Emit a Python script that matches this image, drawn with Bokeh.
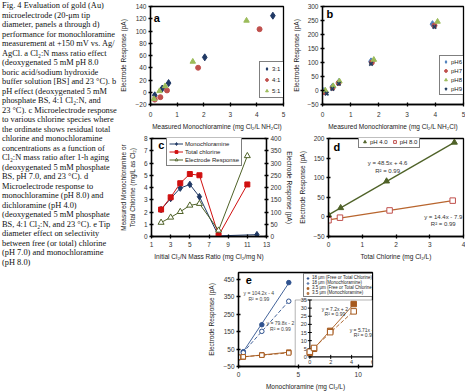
import numpy as np
from bokeh.plotting import figure
from bokeh.layouts import row, column
from bokeh.models import (FixedTicker, Range1d, LinearAxis, Legend, LegendItem,
                          BoxAnnotation, Spacer, Label)
from bokeh.embed import file_html
from bokeh.resources import INLINE
from bokeh.core.properties import value

FONT = "Liberation Sans"
SERIF = "Liberation Serif"

# ---------------- caption ----------------
caption_lines = [
    "Fig. 4  Evaluation of gold (Au)",
    "microelectrode (20-\u03bcm tip",
    "diameter, panels a through d)",
    "performance for monochloramine",
    "measurement at +150 mV vs. Ag/",
    "AgCl. a Cl\u2082:N mass ratio effect",
    "(deoxygenated 5 mM pH 8.0",
    "boric acid/sodium hydroxide",
    "buffer solution [BS] and 23 \u00b0C). b",
    "pH effect (deoxygenated 5 mM",
    "phosphate BS, 4:1 Cl\u2082:N, and",
    "23 \u00b0C). c Microelectrode response",
    "to various chlorine species where",
    "the ordinate shows residual total",
    "chlorine and monochloramine",
    "concentrations as a function of",
    "Cl\u2082:N mass ratio after 1-h aging",
    "(deoxygenated 5 mM phosphate",
    "BS, pH 7.0, and 23 \u00b0C). d",
    "Microelectrode response to",
    "monochloramine (pH 8.0) and",
    "dichloramine (pH 4.0)",
    "(deoxygenated 5 mM phosphate",
    "BS, 4:1 Cl\u2082:N, and 23 \u00b0C). e Tip",
    "diameter effect on selectivity",
    "between free (or total) chlorine",
    "(pH 7.0) and monochloramine",
    "(pH 8.0)",
]

# ---------------- panel a ----------------
a_labels = ["3:1", "4:1", "5:1"]
a_x_3to1 = [0.16, 0.44, 0.68, 2.04, 4.60]
a_y_3to1 = [-5, 6, 15, 57, 125]
a_x_4to1 = [0.16, 0.37, 0.62, 1.79, 4.10]
a_y_4to1 = [-12, -8, 3, 40, 103]
a_x_5to1 = [0.13, 0.34, 0.55, 1.59, 3.61]
a_y_5to1 = [-11, 2, 10, 50, 117]
a_xticks = [0, 1, 2, 3, 4, 5]
a_yticks = [-20, 0, 20, 40, 60, 80, 100, 120, 140]

# ---------------- panel b ----------------
b_labels = ["pH6", "pH7", "pH8", "pH9"]
b_x_ph6 = [0.05, 0.35, 0.58, 1.72, 3.90]
b_y_ph6 = [-2, 13, 30, 104, 237]
b_x_ph7 = [0.08, 0.36, 0.57, 1.75, 3.97]
b_y_ph7 = [-6, 10, 27, 100, 232]
b_x_ph8 = [0.10, 0.38, 0.60, 1.82, 4.08]
b_y_ph8 = [0, 16, 33, 110, 246]
b_x_ph9 = [0.15, 0.35, 0.58, 1.72, 3.97]
b_y_ph9 = [-11, 6, 24, 95, 227]
b_xticks = [0, 1, 2, 3, 4, 5]
b_yticks = [-50, 0, 50, 100, 150, 200, 250, 300]

# ---------------- panel c ----------------
c_labels = ["Monochloramine", "Total chlorine", "Electrode Response"]
c_ratio_mono = [2, 3, 4, 5, 6, 8, 12]
c_mono = [2.2, 3.1, 3.95, 4.25, 3.25, 0.05, 0.15]
c_ratio_total = [2, 3, 4, 5, 6, 8, 11]
c_total = [2.2, 3.2, 4.35, 5.1, 5.0, 0.08, 4.25]
c_ratio_resp = [2, 3, 4, 5, 6, 8, 11]
c_resp = [57, 78, 101, 127, 134, 25, 329]
c_xticks = [1, 3, 5, 7, 9, 11, 13]
c_yticks = [0, 1, 2, 3, 4, 5, 6, 7, 8]
c_ryticks = [0, 50, 100, 150, 200, 250, 300, 350, 400]

# ---------------- panel d ----------------
d_labels = ["pH 4.0", "pH 8.0"]
d_x_ph4 = [0.0, 0.36, 1.72, 3.73]
d_y_ph4 = [5, 23, 91, 190]
d_x_ph8 = [0.0, 0.34, 1.81, 3.68]
d_y_ph8 = [-8.5, -2, 16.5, 41.5]
d_fit_text = ["y = 48.5x + 4.6", "R\u00b2 = 0.99", "y = 14.4x - 7.9", "R\u00b2 = 0.99"]
d_xticks = [0, 1, 2, 3, 4]
d_yticks = [-50, 0, 50, 100, 150, 200]

# ---------------- panel e ----------------
e_labels = ["18 \u03bcm (Free or Total Chlorine)", "18 \u03bcm (Monochloramine)",
            "3.5 \u03bcm (Free or Total Chlorine)", "3.5 \u03bcm (Monochloramine)"]
e_x = [0.0, 0.4, 1.95, 4.2]
e_18_free = [-2, 35, 190, 432]
e_18_mono = [3, 29, 152, 325]
e_35_free = [2.5, 5, 16, 32.5]
e_35_mono = [3.2, 5.5, 15.2, 28]
e_fit_text = ["y = 104.2x - 4", "R\u00b2 = 0.99", "y = 79.8x - 2", "R\u00b2 = 0.99"]
e_inset_text = ["y = 7.2x + 2", "R\u00b2 = 0.99", "y = 5.71x + 3", "R\u00b2 = 0.99"]
e_xticks = [0, 5, 10]
e_yticks = [-50, 50, 150, 250, 350, 450]
e_ixticks = [0, 2, 4, 6]
e_iyticks = [0, 5, 10, 15, 20, 25, 30, 35]

# ---------------- colours ----------------
NAVY = "#1F3864"
RED = "#C0504D"
LGREEN = "#9BBB59"
BLUE = "#4F81BD"
DKBLUE = "#243F60"
OLIVE = "#4F6228"
BRIGHTRED = "#D01010"
ORANGE = "#B8652E"
EBLUE = "#2F528F"
EBROWN = "#A65A1E"


def mkfig(w, h, xr, yr, bl, br, bt, bb, axes=True, outline=True):
    kw = {}
    if not axes:
        kw = dict(x_axis_location=None, y_axis_location=None)
    p = figure(width=w, height=h, x_range=xr, y_range=yr, output_backend="svg",
               toolbar_location=None, min_border_left=bl, min_border_right=br,
               min_border_top=bt, min_border_bottom=bb, **kw)
    p.grid.visible = False
    p.outline_line_color = "black" if outline else None
    p.outline_line_width = 1.3
    p.background_fill_color = "white"
    p.border_fill_color = "white"
    return p


def excel_axis(ax, ticks, title, lab_standoff, title_standoff, fs="6.5px"):
    ax.ticker = FixedTicker(ticks=ticks)
    ax.axis_label = title
    ax.axis_label_text_font = FONT
    ax.axis_label_text_font_size = fs
    ax.axis_label_text_font_style = "normal"
    ax.axis_label_text_color = "#222222"
    ax.axis_label_standoff = title_standoff
    ax.major_label_text_font = FONT
    ax.major_label_text_font_size = fs
    ax.major_label_text_color = "#333333"
    ax.major_label_standoff = lab_standoff
    ax.major_tick_in = 2
    ax.major_tick_out = 2
    ax.minor_tick_line_color = None
    ax.axis_line_color = "black"
    ax.axis_line_width = 1.3
    ax.major_tick_line_color = "black"
    ax.major_tick_line_width = 1.3


def mklegend(items, loc, fs="6px", gw=7, gh=7, spacing=3, padding=3, orientation="vertical"):
    return Legend(items=items, location=loc, orientation=orientation,
                  label_text_font=FONT, label_text_font_size=fs,
                  label_text_color="#222222",
                  glyph_width=gw, glyph_height=gh, label_height=gh, label_width=8,
                  label_standoff=2, spacing=spacing, padding=padding, margin=0,
                  border_line_color="black", border_line_width=1.3,
                  background_fill_color="white", background_fill_alpha=1.0)


def panel_letter(p, x, y, t):
    p.add_layout(Label(x=x, y=y, text=t, text_font=FONT, text_font_size="11px",
                       text_font_style="bold", text_baseline="middle", text_align="left",
                       text_color="black"))


# ================= caption =================
cap = mkfig(117, 392, Range1d(0, 117), Range1d(392, 0), 0, 0, 0, 0, axes=False, outline=False)
cap.text(x=[1.5] * len(caption_lines), y=[5.0 + 9.5 * i for i in range(len(caption_lines))],
         text=caption_lines, text_font=value(SERIF), text_font_size=value("8.4px"),
         text_baseline="middle", text_align="left", text_color="#111111")

# ================= panel a =================
pa = mkfig(173, 132, Range1d(0, 5), Range1d(-20, 140), 29, 7, 5, 28)
excel_axis(pa.xaxis[0], a_xticks, "Measured Monochloramine (mg Cl\u2082/L NH\u2082Cl)", 5, 3)
excel_axis(pa.yaxis[0], a_yticks, "Electrode Response (pA)", 2, 5)
ra1 = pa.scatter(a_x_3to1, a_y_3to1, marker="diamond", size=7, fill_color=NAVY, line_color=NAVY)
ra2 = pa.scatter(a_x_4to1, a_y_4to1, marker="circle", size=5, fill_color=RED, line_color=RED)
ra3 = pa.scatter(a_x_5to1, a_y_5to1, marker="triangle", size=5.5, fill_color=LGREEN, line_color=LGREEN)
pa.add_layout(mklegend([LegendItem(label=l, renderers=[r]) for l, r in zip(a_labels, [ra1, ra2, ra3])],
                       (109, 6), spacing=4))
panel_letter(pa, 0.12, 121, "a")

# ================= panel b =================
pb = mkfig(175, 132, Range1d(0, 5), Range1d(-50, 300), 27, 2, 6, 26)
excel_axis(pb.xaxis[0], b_xticks, "Measured Monochloramine (mg Cl\u2082/L NH\u2082Cl)", 5, 3)
excel_axis(pb.yaxis[0], b_yticks, "Electrode Response (pA)", 2, 4)
rb1 = pb.scatter(b_x_ph6, b_y_ph6, marker="diamond", size=7, fill_color=BLUE, line_color=BLUE)
rb2 = pb.scatter(b_x_ph7, b_y_ph7, marker="circle", size=5, fill_color=RED, line_color=RED)
rb3 = pb.scatter(b_x_ph8, b_y_ph8, marker="triangle", size=5.5, fill_color=LGREEN, line_color=LGREEN)
rb4 = pb.scatter(b_x_ph9, b_y_ph9, marker="x", size=5, line_color=DKBLUE, line_width=1.6)
pb.add_layout(mklegend([LegendItem(label=l, renderers=[r]) for l, r in zip(b_labels, [rb1, rb2, rb3, rb4])],
                       (117, 9), spacing=2, padding=2))
panel_letter(pb, 0.14, 272, "b")

# ================= panel c =================
pc = mkfig(179, 130, Range1d(1, 13), Range1d(0, 8), 31, 26, 6, 25)
pc.extra_y_ranges = {"r": Range1d(0, 400)}
excel_axis(pc.xaxis[0], c_xticks, "Initial Cl\u2082/N Mass Ratio (mg Cl\u2082/mg N)", 3, 3)
excel_axis(pc.yaxis[0], c_yticks, "Measured Monochloramine or\nTotal Chlorine (mg/L as Cl\u2082)", 2, 5)
rax = LinearAxis(y_range_name="r")
excel_axis(rax, c_ryticks, "Electrode Response (pA)", 2, 2)
pc.add_layout(rax, "right")
lc1 = pc.line(c_ratio_mono, c_mono, line_color=NAVY, line_width=1)
sc1 = pc.scatter(c_ratio_mono, c_mono, marker="diamond", size=6.5, fill_color=NAVY, line_color=NAVY)
lc2 = pc.line(c_ratio_total, c_total, line_color=BRIGHTRED, line_width=1)
sc2 = pc.scatter(c_ratio_total, c_total, marker="square", size=5, fill_color=BRIGHTRED, line_color=BRIGHTRED)
lc3 = pc.line(c_ratio_resp, c_resp, y_range_name="r", line_color=OLIVE, line_width=1)
sc3 = pc.scatter(c_ratio_resp, c_resp, y_range_name="r", marker="triangle", size=6,
                 fill_color="white", line_color=OLIVE, line_width=1)
pc.add_layout(mklegend([LegendItem(label=c_labels[0], renderers=[lc1, sc1]),
                        LegendItem(label=c_labels[1], renderers=[lc2, sc2]),
                        LegendItem(label=c_labels[2], renderers=[lc3, sc3])],
                       (15, 70), gw=14, gh=7, spacing=1, padding=2))
panel_letter(pc, 1.7, 7.43, "c")

# ================= panel d =================
pd_ = mkfig(169, 130, Range1d(0, 4), Range1d(-50, 200), 32, 2, 6, 24)
excel_axis(pd_.xaxis[0], d_xticks, "Total Chlorine (mg Cl\u2082/L)", 3, 3)
excel_axis(pd_.yaxis[0], d_yticks, "Electrode Response (pA)", 2, 4)
for xs, ys, col in [(d_x_ph4, d_y_ph4, OLIVE), (d_x_ph8, d_y_ph8, ORANGE)]:
    k, b0 = np.polyfit(xs, ys, 1)
    fx = np.array([min(xs), max(xs)])
    pd_.line(fx, k * fx + b0, line_color=col, line_width=1.3)
rd1 = pd_.scatter(d_x_ph4, d_y_ph4, marker="triangle", size=6, fill_color=OLIVE, line_color=OLIVE)
rd2 = pd_.scatter(d_x_ph8, d_y_ph8, marker="square", size=5.5, fill_color="white", line_color=RED, line_width=1)
pd_.add_layout(mklegend([LegendItem(label=l, renderers=[r]) for l, r in zip(d_labels, [rd1, rd2])],
                        (30, 88), orientation="horizontal", spacing=3, padding=2))
pd_.text(x=[1.75, 1.75, 3.4, 3.4], y=[137, 117, 0, -17], text=d_fit_text,
         text_font=value(FONT), text_font_size=value("6px"), text_align="center",
         text_baseline="middle", text_color="#333333")
panel_letter(pd_, 0.15, 178, "d")

# ================= panel e =================
pe = mkfig(180, 130, Range1d(0, 11.2), Range1d(-50, 490), 31, 13, 10, 22)
pe.extra_x_ranges = {"ix": Range1d(-6.83, 6.0)}
pe.extra_y_ranges = {"iy": Range1d(-5.9, 51.9)}
excel_axis(pe.xaxis[0], e_xticks, "Monochloramine (mg Cl\u2082/L)", 3, 3)
excel_axis(pe.yaxis[0], e_yticks, "Electrode Response (pA)", 2, 5)

# main-chart fits and points
for ys, col, dash in [(e_18_free, EBLUE, "solid"), (e_18_mono, EBLUE, "4 2"),
                      (e_35_free, EBROWN, "solid"), (e_35_mono, EBROWN, "4 2")]:
    k, b0 = np.polyfit(e_x, ys, 1)
    fx = np.array([min(e_x), max(e_x)])
    pe.line(fx, k * fx + b0, line_color=col, line_width=0.9, line_dash=dash)
re1 = pe.scatter(e_x, e_18_free, marker="circle", size=4.5, fill_color=EBLUE, line_color=EBLUE)
re2 = pe.scatter(e_x, e_18_mono, marker="circle", size=4.5, fill_color="white", line_color=EBLUE, line_width=1)
re3 = pe.scatter(e_x, e_35_free, marker="square", size=4.5, fill_color=EBROWN, line_color=EBROWN)
re4 = pe.scatter(e_x, e_35_mono, marker="square", size=4.5, fill_color="white", line_color=EBROWN, line_width=1)
pe.text(x=[1.7, 1.7, 3.5, 3.5], y=[372, 340, 198, 166], text=e_fit_text,
        text_font=value(FONT), text_font_size=value("5px"), text_align="center",
        text_baseline="middle", text_color="#444444")

# inset (drawn through the extra ranges)
pe.add_layout(BoxAnnotation(left=-1.4, right=6.0, bottom=-5.9, top=35.0, x_range_name="ix",
                            y_range_name="iy", fill_color="white", fill_alpha=1.0,
                            line_color="black", line_width=1, level="underlay"))
pe.line([0, 0], [min(e_iyticks), max(e_iyticks)], x_range_name="ix", y_range_name="iy",
        line_color="black", line_width=1.1)
pe.line([0, max(e_ixticks)], [0, 0], x_range_name="ix", y_range_name="iy",
        line_color="black", line_width=1.1)
pe.scatter([0] * len(e_iyticks), e_iyticks, marker="dash", size=4, x_range_name="ix",
           y_range_name="iy", line_color="black", line_width=1)
pe.scatter(e_ixticks, [0] * len(e_ixticks), marker="dash", angle=np.pi / 2, size=4,
           x_range_name="ix", y_range_name="iy", line_color="black", line_width=1)
pe.text(x=[0] * len(e_iyticks), y=e_iyticks, text=[str(v) for v in e_iyticks],
        x_range_name="ix", y_range_name="iy", x_offset=-3, text_align="right",
        text_baseline="middle", text_font=value(FONT), text_font_size=value("5.5px"),
        text_color="#333333")
pe.text(x=e_ixticks, y=[0] * len(e_ixticks), text=[str(v) for v in e_ixticks],
        x_range_name="ix", y_range_name="iy", y_offset=3, text_align="center",
        text_baseline="top", text_font=value(FONT), text_font_size=value("5.5px"),
        text_color="#333333")
for ys, col, dash in [(e_35_free, EBROWN, "solid"), (e_35_mono, EBROWN, "4 2")]:
    k, b0 = np.polyfit(e_x, ys, 1)
    fx = np.array([min(e_x), max(e_x)])
    pe.line(fx, k * fx + b0, x_range_name="ix", y_range_name="iy",
            line_color=col, line_width=0.9, line_dash=dash)
pe.scatter(e_x, e_35_free, marker="square", size=5.5, fill_color=EBROWN, line_color=EBROWN,
           x_range_name="ix", y_range_name="iy")
pe.scatter(e_x, e_35_mono, marker="square", size=5.5, fill_color="white", line_color=EBROWN,
           line_width=1, x_range_name="ix", y_range_name="iy")
pe.text(x=[2.4, 2.4, 5.2, 5.2], y=[29.5, 26.5, 16.5, 13.5], text=e_inset_text,
        x_range_name="ix", y_range_name="iy", text_font=value(FONT), text_font_size=value("5px"),
        text_align="center", text_baseline="middle", text_color="#333333")

pe.add_layout(mklegend([LegendItem(label=l, renderers=[r]) for l, r in zip(e_labels, [re1, re2, re3, re4])],
                       (65, 69), fs="4.5px", gw=5, gh=4, spacing=0, padding=1))
panel_letter(pe, 0.6, 446, "e")

# ================= layout =================
right = column(row(pa, pb), row(pc, pd_), row(Spacer(width=88, height=130), pe))
root = row(cap, right)

open("out.html", "w").write(file_html(root, INLINE))
